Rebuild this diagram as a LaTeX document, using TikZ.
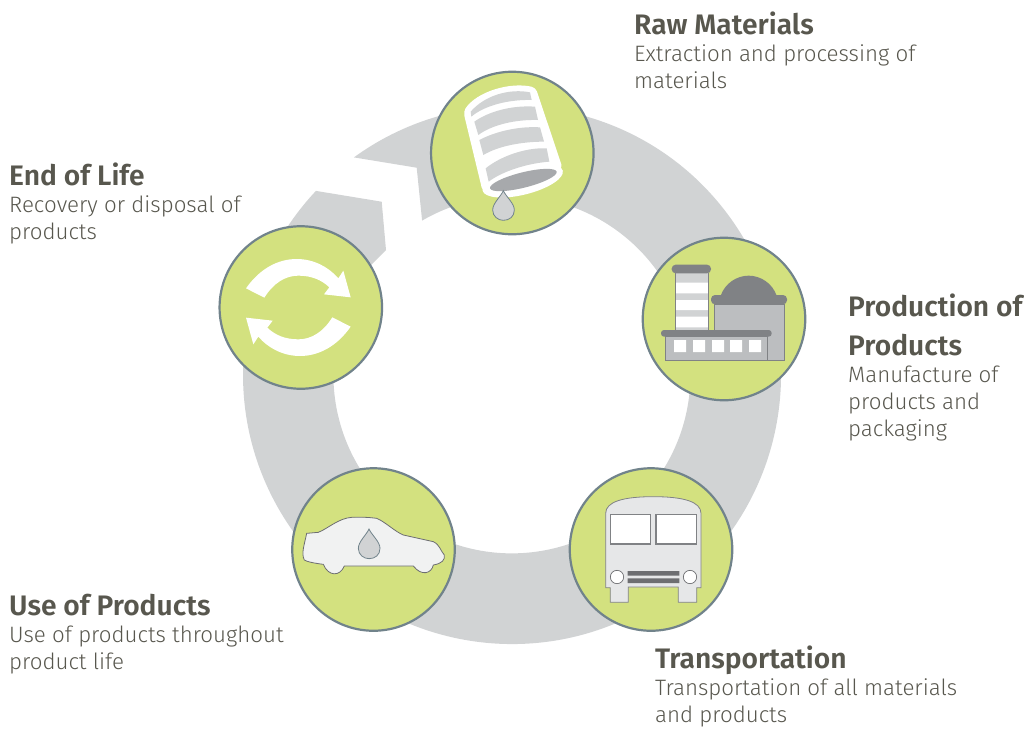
\documentclass[tikz,border=0pt]{standalone}
\usepackage{fontspec}
\setmainfont[UprightFont={* Light},BoldFont={* SemiBold}]{Fira Sans}
\definecolor{ringc}{HTML}{D1D3D4}
\definecolor{lime}{HTML}{D3E17F}
\definecolor{edgec}{HTML}{71838B}
\definecolor{txt}{HTML}{58574E}
\definecolor{dk}{HTML}{808285}
\definecolor{md}{HTML}{BCBEC0}
\definecolor{bus}{HTML}{E6E7E8}
\definecolor{car}{HTML}{F1F2F2}
\definecolor{grille}{HTML}{6D6E71}
\definecolor{hole}{HTML}{A7A9AC}
\tikzset{
 x=1pt,y=1pt,
 stage/.style={circle,draw=edgec,fill=lime,line width=2.2pt,minimum size=162.5pt,inner sep=0pt},
 head/.style={anchor=base west,inner sep=0pt,font=\fontsize{28.2}{39}\selectfont\bfseries,text=txt,align=left},
 body/.style={anchor=base west,inner sep=0pt,font=\fontsize{22.3}{27}\selectfont,text=txt,align=left},
 drop/.style={draw=edgec,fill=ringc,line width=0.8pt},
 icon/.style={x=0.33333pt,y=-0.33333pt},
}
\newcommand{\dropat}[2]{%
  \draw[drop,shift={(#1,#2)}] (0,-58) .. controls (-8,-40) and (-32,-20) .. (-32,0) .. controls (-32,20) and (-15,31) .. (0,31) .. controls (18,31) and (33,20) .. (33,0) .. controls (33,-20) and (8,-40) .. (0,-58) -- cycle;}
\begin{document}
\begin{tikzpicture}
\useasboundingbox (0,0) rectangle (1024,-728);
% ring with arrow gap
\fill[ringc] (353.9,-157.4) arc[start angle=126,end angle=-223.2,radius=269]
  -- (381.7,-201.7) -- (386,-250) -- (372,-264)
  arc[start angle=141.6,end angle=480.2,radius=178.5]
  -- (416.7,-167.7) -- cycle;
% circles
\node[stage] (raw) at (512.3,-153) {};
\node[stage] (prod) at (724,-319) {};
\node[stage] (trans) at (651,-549.5) {};
\node[stage] (use) at (373.5,-549.5) {};
\node[stage] (eol) at (300.8,-307.5) {};
% barrel
\begin{scope}[shift={(420,-60)},icon]
\fill[white,rounded corners=4pt] (130,155) .. controls (170,95) and (270,65) .. (347,83)
  -- (428,325) -- (308,362) -- (188,395) -- cycle;
\fill[white,rounded corners=4pt,rotate around={14:(308,362)}] (308,362) ellipse[x radius=124,y radius=42];
\fill[ringc] (152,155) .. controls (195,105) and (270,85) .. (330,97) -- (335,120) .. controls (270,118) and (195,135) .. (154,170) -- cycle;
\fill[ringc] (163,185) .. controls (205,155) and (275,135) .. (345,140) -- (354,180) .. controls (285,178) and (215,195) .. (175,225) -- cycle;
\fill[ringc] (178,240) .. controls (225,215) and (295,198) .. (360,202) -- (372,245) .. controls (305,245) and (235,258) .. (190,285) -- cycle;
\fill[ringc] (197,325) .. controls (240,290) and (315,262) .. (380,265) -- (388,305) .. controls (320,310) and (245,335) .. (206,365) -- cycle;
\fill[hole,rotate around={14:(310,360)}] (310,360) ellipse[x radius=103,y radius=23];
\dropat{250}{450}
\end{scope}
% factory
\begin{scope}[shift={(630,-230)},icon]
\fill[ringc] (135,128) rectangle (235,300);
\fill[white] (135,158) rectangle (235,190) (135,210) rectangle (235,240) (135,260) rectangle (235,292);
\draw[dk,line width=0.7pt] (135,128) -- (135,300) (235,128) -- (235,300);
\fill[dk,rounded corners=4pt] (125,104) rectangle (243,130);
\draw[dk,fill=md,line width=0.8pt] (253,222) rectangle (462,390);
\fill[dk] (272,197) .. controls (285,160) and (320,137) .. (356,137) .. controls (392,137) and (427,160) .. (440,197) -- cycle;
\fill[dk,rounded corners=4pt] (243,195) rectangle (471,223);
\draw[dk,fill=md,line width=0.8pt] (105,318) rectangle (412,390);
\fill[dk,rounded corners=3pt] (93,300) rectangle (425,320);
\fill[white] (132,330) rectangle (168,366) (189,330) rectangle (225,366) (246,330) rectangle (282,366) (300,330) rectangle (336,366) (357,330) rectangle (393,366);
\end{scope}
% bus
\begin{scope}[shift={(560,-465)},icon]
\draw[dk,fill=bus,line width=0.8pt] (137,368) -- (137,145) .. controls (137,110) and (190,95) .. (280,95) .. controls (370,95) and (423,110) .. (423,145) -- (423,368) -- (410,368) -- (410,412) -- (355,412) -- (355,366) -- (205,366) -- (205,412) -- (151,412) -- (151,368) -- cycle;
\draw[dk,fill=white,line width=1.2pt] (151,149) rectangle (272,237);
\draw[dk,fill=white,line width=1.2pt] (288,149) rectangle (409,237);
\draw[grille,fill=white,line width=0.7pt] (171,336) circle[radius=20];
\draw[grille,fill=white,line width=0.7pt] (390,336) circle[radius=20];
\fill[grille] (203,318) rectangle (358,332) (203,340) rectangle (358,354);
\end{scope}
% car
\begin{scope}[shift={(285,-465)},icon]
\draw[grille,fill=car,line width=0.8pt] (65,205) -- (100,202) .. controls (130,190) and (160,160) .. (200,157) .. controls (230,156) and (255,157) .. (275,160) .. controls (300,170) and (330,200) .. (355,210) -- (445,230) .. controls (465,240) and (465,255) .. (478,270) .. controls (480,285) and (472,295) .. (445,300) .. controls (440,325) and (410,335) .. (385,303) -- (178,303) .. controls (165,335) and (130,335) .. (115,298) .. controls (90,295) and (65,290) .. (58,285) .. controls (48,265) and (58,240) .. (65,205) -- cycle;
\dropat{252}{250}
\end{scope}
% recycle arrows
\begin{scope}[shift={(210,-130)},icon]
\fill[white] (108,475) .. controls (150,415) and (205,387) .. (260,387) .. controls (310,387) and (355,410) .. (385,445) -- (400,422) -- (422,502) -- (342,493) -- (358,472) .. controls (335,450) and (305,437) .. (265,437) .. controls (225,437) and (190,460) .. (163,503) -- cycle;
\fill[white] (422,590) .. controls (380,650) and (325,678) .. (270,678) .. controls (220,678) and (175,655) .. (145,620) -- (130,643) -- (108,563) -- (188,572) -- (172,593) .. controls (195,615) and (225,628) .. (265,628) .. controls (305,628) and (340,605) .. (367,562) -- cycle;
\end{scope}
% labels
\node[head] (t1) at (634,-34) {Raw Materials};
\node[body] (b1) at (634,-88) {Extraction and processing of\\materials};
\node[head] (t2) at (848,-355) {Production of\\Products};
\node[body] (b2) at (848,-436) {Manufacture of\\products and\\packaging};
\node[head] (t3) at (655,-668) {Transportation};
\node[body] (b3) at (655,-722) {Transportation of all materials\\and products};
\node[head] (t4) at (9,-615) {Use of Products};
\node[body] (b4) at (9,-669) {Use of products throughout\\product life};
\node[head] (t5) at (9,-185) {End of Life};
\node[body] (b5) at (9,-239) {Recovery or disposal of\\products};
\end{tikzpicture}
\end{document}
